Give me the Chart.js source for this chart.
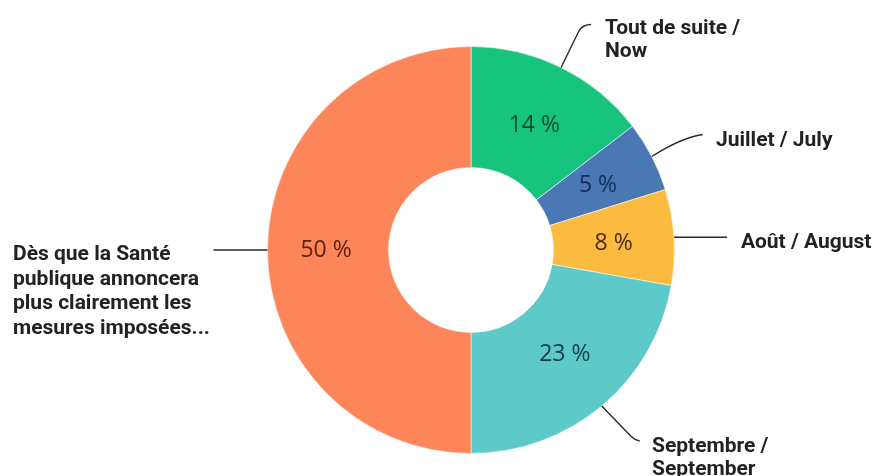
<!DOCTYPE html>
<html>
<head>
<meta charset="utf-8">
<script src="https://cdn.jsdelivr.net/npm/chart.js@4/dist/chart.umd.min.js"></script>
<style>
  html, body { margin: 0; padding: 0; background: #ffffff; }
  #wrap { width: 873px; height: 476px; position: relative; }
</style>
</head>
<body>
<div id="wrap"><canvas id="c" width="873" height="476"></canvas></div>
<script>
// ---- data ----
const categories = [
  "Tout de suite / Now",
  "Juillet / July",
  "Août / August",
  "Septembre / September",
  "Dès que la Santé publique annoncera plus clairement les mesures imposées..."
];
const values = [14.6, 5.6, 7.6, 22.2, 50];
const valueLabels = ["14 %", "5 %", "8 %", "23 %", "50 %"];
const categoryLines = [
  ["Tout de suite /", "Now"],
  ["Juillet / July"],
  ["Août / August"],
  ["Septembre /", "September"],
  ["Dès que la Santé", "publique annoncera", "plus clairement les", "mesures imposées..."]
];

// ---- styles ----
const colors = ["#17c47d", "#4a78b5", "#fbbb41", "#5ec9c9", "#fc8559"];
const textColors = ["#0f4a2d", "#18295a", "#4a2b0d", "#103d44", "#5a1f0f"];

// external label layout: text anchor (x, first baseline), line height, leader path (relative to arc edge point)
const extLayout = [
  { x: 605, y: 34, lh: 23, path: [["L", 18, -37], ["Q", 22, -43, 30, -43]] },
  { x: 716, y: 146, lh: 23, path: [["Q", 30, -19, 51, -22]] },
  { x: 741, y: 248, lh: 23, path: [["L", 53, 0]] },
  { x: 652, y: 452, lh: 23, path: [["L", 29, 30], ["Q", 33, 34, 38, 35]] },
  { x: 13, y: 260, lh: 24.5, path: [["L", -54, 0]] }
];
const valueOffsets = [[0, 3], [0, 0], [0, 1], [2, -6], [-2, -1]];

const labelPlugin = {
  id: 'labelPlugin',
  afterDatasetsDraw(chart) {
    const ctx = chart.ctx;
    const meta = chart.getDatasetMeta(0);
    ctx.save();
    meta.data.forEach((arc, i) => {
      const p = arc.getProps(['x', 'y', 'startAngle', 'endAngle', 'innerRadius', 'outerRadius'], true);
      const mid = (p.startAngle + p.endAngle) / 2;
      const r = (p.innerRadius + p.outerRadius) / 2;
      // value labels
      ctx.font = '400 23px "Open Sans", sans-serif';
      ctx.fillStyle = textColors[i];
      ctx.textAlign = 'center';
      ctx.textBaseline = 'middle';
      ctx.fillText(valueLabels[i], p.x + Math.cos(mid) * r + valueOffsets[i][0], p.y + Math.sin(mid) * r + 1 + valueOffsets[i][1]);
      // leader lines
      const sx = p.x + Math.cos(mid) * p.outerRadius;
      const sy = p.y + Math.sin(mid) * p.outerRadius;
      const L = extLayout[i];
      ctx.beginPath();
      ctx.moveTo(sx, sy);
      L.path.forEach(seg => {
        if (seg[0] === 'L') ctx.lineTo(sx + seg[1], sy + seg[2]);
        else ctx.quadraticCurveTo(sx + seg[1], sy + seg[2], sx + seg[3], sy + seg[4]);
      });
      ctx.strokeStyle = '#2a2a2a';
      ctx.lineWidth = 1.4;
      ctx.stroke();
      // category text
      ctx.font = '700 21px Roboto, sans-serif';
      ctx.fillStyle = '#222222';
      ctx.textAlign = 'left';
      ctx.textBaseline = 'alphabetic';
      categoryLines[i].forEach((line, k) => {
        ctx.fillText(line, L.x, L.y + k * L.lh);
      });
    });
    ctx.restore();
  }
};

new Chart(document.getElementById('c'), {
  type: 'doughnut',
  data: {
    labels: categories,
    datasets: [{
      data: values,
      backgroundColor: colors,
      borderColor: 'rgba(255,255,255,0.55)',
      borderWidth: 1
    }]
  },
  options: {
    responsive: false,
    animation: false,
    cutout: '40.5%',
    layout: { padding: { top: 46, bottom: 22, left: 267, right: 198 } },
    plugins: {
      legend: { display: false },
      tooltip: { enabled: false }
    }
  },
  plugins: [labelPlugin]
});
</script>
</body>
</html>
